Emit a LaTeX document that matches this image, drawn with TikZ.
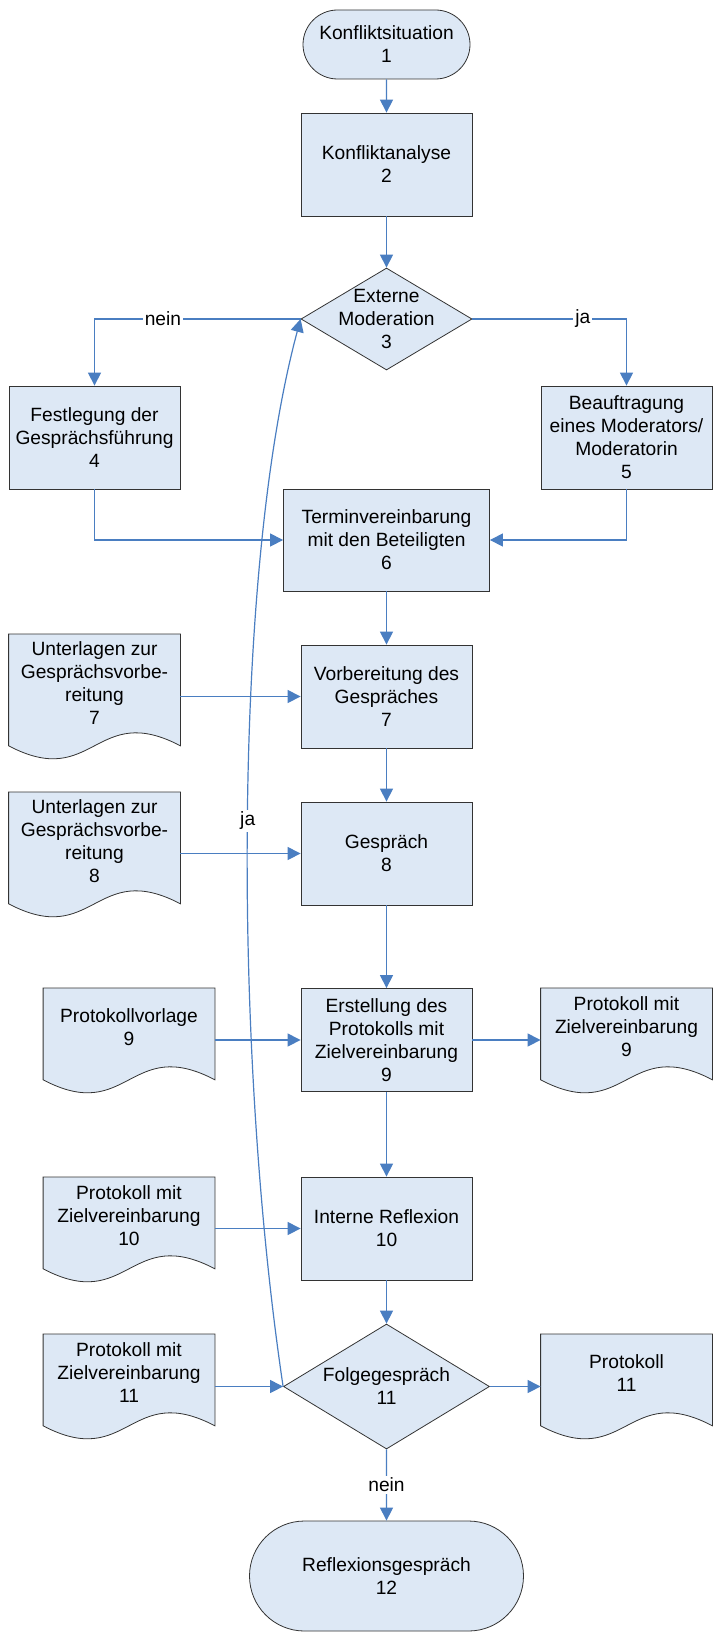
\documentclass[tikz,border=0pt]{standalone}
\usepackage{fontspec}
\setmainfont{Liberation Sans}
\usetikzlibrary{shapes.geometric,shapes.misc,arrows.meta,backgrounds}
\definecolor{boxfill}{RGB}{221,232,245}
\definecolor{linkblue}{RGB}{74,126,193}
\begin{document}
\begin{tikzpicture}[x=0.5pt,y=-0.5pt,
  every node/.style={font=\fontsize{9.6}{11.5}\selectfont,align=center,inner sep=1pt},
  box/.style={draw=black!80,fill=boxfill,minimum width=85.5pt,minimum height=51.5pt},
  term/.style={rounded rectangle,draw=black!80,fill=boxfill,minimum width=85.5pt,minimum height=34.5pt},
  decision/.style={diamond,draw=black!80,fill=boxfill,inner sep=0pt,minimum width=85.5pt,minimum height=51pt},
  docu/.style={anchor=north,minimum width=85.5pt,minimum height=38.5pt},
  link/.style={draw=linkblue,line width=0.6pt,-{Triangle[width=6.5pt,length=6.5pt]}},
  tag/.style={fill=white,inner sep=1pt}]
\useasboundingbox (0,0) rectangle (712,1632);
\node[term] (konflikt) at (386.5,44.5) {Konfliktsituation\\1};
\node[box] (analyse) at (386.5,164.5) {Konfliktanalyse\\2};
\node[decision] (moderation) at (386.5,319) {};
\node (moderationtext) at (moderation) {Externe\\Moderation\\3};
\node[box] (festlegung) at (94.5,437.5) {Festlegung der\\Gesprächsführung\\4};
\node[box] (beauftragung) at (626.5,437.5) {Beauftragung\\eines Moderators/\\Moderatorin\\5};
\node[box,minimum width=103pt,minimum height=51pt] (termin) at (386.5,540) {Terminvereinbarung\\mit den Beteiligten\\6};
\node[box] (vorbereitung) at (386.5,696.5) {Vorbereitung des\\Gespräches\\7};
\node[box] (gespraech) at (386.5,853.5) {Gespräch\\8};
\node[box] (erstellung) at (386.5,1040) {Erstellung des\\Protokolls mit\\Zielvereinbarung\\9};
\node[box] (reflexion) at (386.5,1228.5) {Interne Reflexion\\10};
\node[decision,minimum width=103pt,minimum height=62.5pt] (folge) at (386.5,1386.5) {};
\node (folgetext) at (folge) {Folgegespräch\\11};
\node[term,minimum width=139pt,minimum height=55pt] (abschluss) at (386.5,1576) {Reflexionsgespräch\\12};

\node[docu,minimum height=48.5pt] (unterlagen7) at (94.5,634) {Unterlagen zur\\Gesprächsvorbe-\\reitung\\7};
\node[docu,minimum height=48.5pt] (unterlagen8) at (94.5,792) {Unterlagen zur\\Gesprächsvorbe-\\reitung\\8};
\node[docu] (vorlage) at (129,988) {Protokollvorlage\\9};
\node[docu] (protokoll9) at (626.5,988) {Protokoll mit\\Zielvereinbarung\\9};
\node[docu] (zielv10) at (129,1177) {Protokoll mit\\Zielvereinbarung\\10};
\node[docu] (zielv11) at (129,1334) {Protokoll mit\\Zielvereinbarung\\11};
\node[docu] (protokoll11) at (626.5,1334) {Protokoll\\11};
\begin{pgfonlayer}{background}
\foreach \d in {unterlagen7,unterlagen8,vorlage,protokoll9,zielv10,zielv11,protokoll11}
  \filldraw[draw=black!80,fill=boxfill] (\d.north east) -- (\d.north west) -- ([yshift=-7pt]\d.south west)
    .. controls +(42.75pt,-22.5pt) and +(-42.75pt,22.5pt) .. ([yshift=-7pt]\d.south east) -- cycle;
\end{pgfonlayer}

\draw[link] (konflikt) -- (analyse);
\draw[link] (analyse) -- (moderation);
\draw[link] (moderation.west) -| node[tag,pos=0.334]{nein} (festlegung.north);
\draw[link] (moderation.east) -| node[tag,pos=0.358]{ja} (beauftragung.north);
\draw[link] (festlegung.south) |- (termin.west);
\draw[link] (beauftragung.south) |- (termin.east);
\draw[link] (termin) -- (vorbereitung);
\draw[link] (unterlagen7.east |- vorbereitung.west) -- (vorbereitung.west);
\draw[link] (vorbereitung) -- (gespraech);
\draw[link] (unterlagen8.east |- gespraech.west) -- (gespraech.west);
\draw[link] (gespraech) -- (erstellung);
\draw[link] (vorlage.east |- erstellung.west) -- (erstellung.west);
\draw[link] (erstellung.east) -- (protokoll9.west |- erstellung.east);
\draw[link] (erstellung) -- (reflexion);
\draw[link] (zielv10.east |- reflexion.west) -- (reflexion.west);
\draw[link] (reflexion) -- (folge);
\draw[link] (zielv11.east |- folge.west) -- (folge.west);
\draw[link] (folge.east) -- (protokoll11.west |- folge.east);
\draw[link] (folge) -- node[tag]{nein} (abschluss);
\draw[link] (folge.west) .. controls (233,1050) and (233,570) .. node[tag,pos=0.5]{ja} (moderation.west);
\end{tikzpicture}
\end{document}
